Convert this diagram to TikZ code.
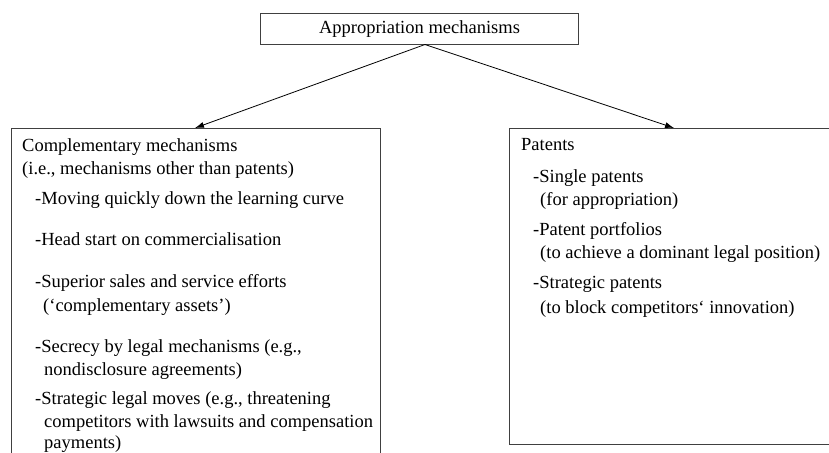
\documentclass[tikz,border=0pt]{standalone}
\usepackage{fontspec}
\setmainfont{Liberation Serif}
\usetikzlibrary{arrows.meta}
\begin{document}
\begin{tikzpicture}[x=1pt,y=-1pt,
  txt/.style={anchor=base west,inner sep=0pt,font=\fontsize{18.5}{23}\selectfont},
  boxline/.style={draw=black!75,line width=1pt},
  conn/.style={draw=black,line width=0.8pt,-{Latex[length=9pt,width=6pt]}}]
\useasboundingbox (0,0) rectangle (829,452);
\clip (0,0) rectangle (829,452);
% boxes
\node[boxline,rectangle,minimum width=318pt,minimum height=31pt,inner sep=0pt,anchor=north west] (top) at (260,13) {};
\node[font=\fontsize{18.5}{23}\selectfont,inner sep=0pt,anchor=base] (toptext) at (top.center |- 0,34) {Appropriation mechanisms};
\node[boxline,rectangle,minimum width=369pt,minimum height=360pt,inner sep=0pt,anchor=north west] (left) at (11,128) {};
\node[boxline,rectangle,minimum width=360pt,minimum height=316pt,inner sep=0pt,anchor=north west] (right) at (509,128) {};
% connectors
\coordinate (src) at (425,44.5);
\coordinate (lt) at (195,128);
\coordinate (rt) at (674,128);
\draw[conn] (src) -- (lt);
\draw[conn] (src) -- (rt);
% left texts
\node[txt] (l1) at (22,151) {Complementary mechanisms};
\node[txt] (l2) at (22,174) {(i.e., mechanisms other than patents)};
\node[txt] (l3) at (35,204) {-Moving quickly down the learning curve};
\node[txt] (l4) at (35,245) {-Head start on commercialisation};
\node[txt] (l5) at (35,287) {-Superior sales and service efforts};
\node[txt] (l6) at (43,311) {(‘complementary assets’)};
\node[txt] (l7) at (35,352) {-Secrecy by legal mechanisms (e.g.,};
\node[txt] (l8) at (44,375) {nondisclosure agreements)};
\node[txt] (l9) at (35,404) {-Strategic legal moves (e.g., threatening};
\node[txt] (l10) at (44,427) {competitors with lawsuits and compensation};
\node[txt] (l11) at (44,448) {payments)};
% right texts
\node[txt] (r1) at (521,150) {Patents};
\node[txt] (r2) at (533,182) {-Single patents};
\node[txt] (r3) at (540,205) {(for appropriation)};
\node[txt] (r4) at (533,235) {-Patent portfolios};
\node[txt] (r5) at (540,258) {(to achieve a dominant legal position)};
\node[txt] (r6) at (533,288) {-Strategic patents};
\node[txt] (r7) at (540,313) {(to block competitors‘ innovation)};
\end{tikzpicture}
\end{document}
